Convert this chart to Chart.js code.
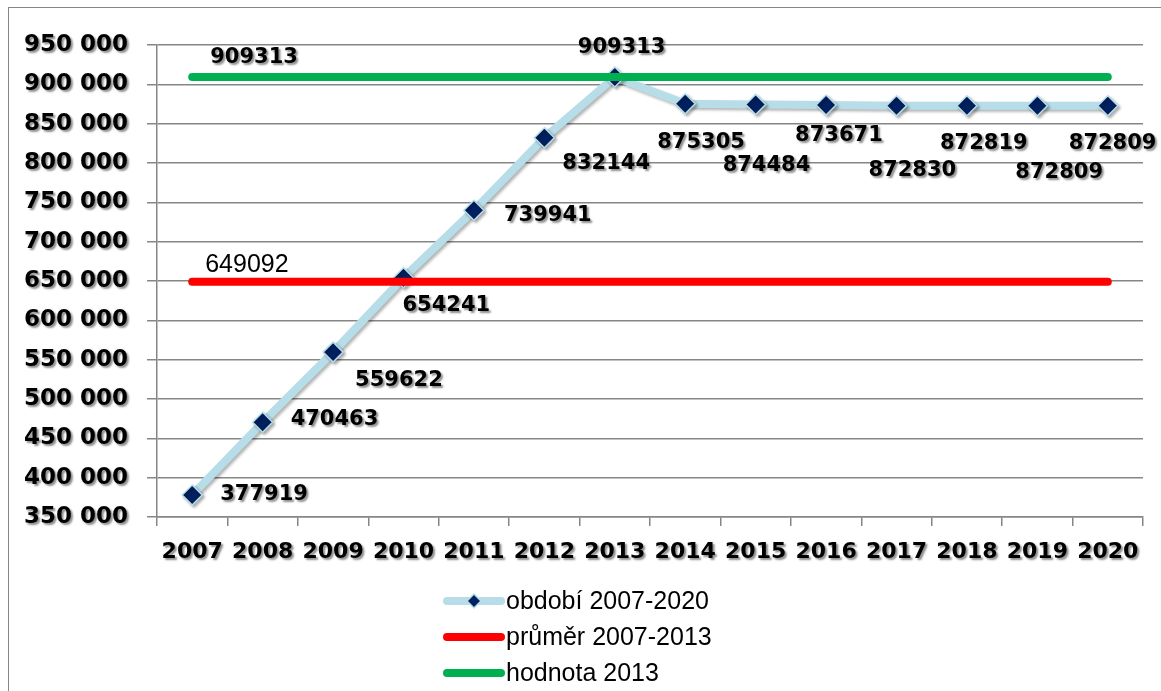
<!DOCTYPE html>
<html>
<head>
<meta charset="utf-8">
<script src="https://cdn.jsdelivr.net/npm/chart.js@4/dist/chart.umd.min.js"></script>
<style>
	html, body { margin: 0; padding: 0; background: #fff; overflow: hidden; }
	#wrap { position: absolute; left: 0; top: 0; width: 1161px; height: 691px; }
	#frame { position: absolute; left: 8px; top: 7px; width: 1170px; height: 700px; border: 1.5px solid #868686; box-sizing: border-box; }
</style>
</head>
<body>
<div id="wrap">
	<div id="frame"></div>
	<canvas id="chart-canvas" width="1161" height="691"></canvas>
</div>
<script>
const years = ["2007", "2008", "2009", "2010", "2011", "2012", "2013", "2014", "2015", "2016", "2017", "2018", "2019", "2020"];
const obdobi = [377919, 470463, 559622, 654241, 739941, 832144, 909313, 875305, 874484, 873671, 872830, 872819, 872809, 872809];
const prumer = 649092;
const hodnota2013 = 909313;
const yMin = 350000;
const yMax = 950000;
const yStep = 50000;

// where each data label sits next to its point (dx, dy in px)
const obdobiLabelOffsets = [
	[28, 0], [28, -3], [22, 28], [-1, 28], [30, 5], [18, 26], [-37, -29],
	[-28, 39], [-33, 61], [-31, 31], [-28, 65], [-27, 38], [-22, 67], [-39, 38],
];

const boldFont = "bold 21px 'DejaVu Sans'";
const textShadow = (c) => {
	c.shadowColor = "rgba(0,0,0,0.45)";
	c.shadowOffsetX = 2;
	c.shadowOffsetY = 2;
	c.shadowBlur = 2;
};

const labelsPlugin = {
	id: "labels",
	beforeDraw(chart) {
		Object.values(chart.scales).forEach((s) => {
			if (s._shadowed) return;
			const orig = s.drawLabels.bind(s);
			s.drawLabels = function (area) {
				this.ctx.save();
				textShadow(this.ctx);
				orig(area);
				this.ctx.restore();
			};
			s._shadowed = true;
		});
	},
	beforeDatasetDraw(chart, args) {
		if (args.index === 0) {
			chart.ctx.save();
			chart.ctx.shadowColor = "rgba(0,0,0,0.3)";
			chart.ctx.shadowOffsetX = 2;
			chart.ctx.shadowOffsetY = 2;
			chart.ctx.shadowBlur = 3;
		}
	},
	afterDatasetDraw(chart, args) {
		if (args.index === 0) chart.ctx.restore();
	},
	afterDraw(chart) {
		const ctx = chart.ctx;
		ctx.save();
		ctx.textBaseline = "middle";
		ctx.textAlign = "left";

		// series labels
		ctx.font = boldFont;
		ctx.fillStyle = "#000";
		textShadow(ctx);
		chart.getDatasetMeta(0).data.forEach((pt, i) => {
			const [dx, dy] = obdobiLabelOffsets[i];
			ctx.fillText(String(obdobi[i]), pt.x + dx, pt.y + dy);
		});
		const g = chart.getDatasetMeta(2).data[0];
		ctx.fillText(String(hodnota2013), g.x + 18, g.y - 19);

		ctx.shadowColor = "transparent";
		const r = chart.getDatasetMeta(1).data[0];
		ctx.font = "25px 'Liberation Sans', Arial";
		ctx.fillText(String(prumer), r.x + 13, r.y - 17);

		// legend, one item per row
		const items = chart.data.datasets;
		const x0 = 447, x1 = 501;
		items.forEach((ds, i) => {
			const y = 601 + i * 36;
			ctx.lineCap = "round";
			ctx.lineWidth = 8;
			ctx.strokeStyle = ds.borderColor;
			ctx.beginPath();
			ctx.moveTo(x0, y);
			ctx.lineTo(x1, y);
			ctx.stroke();
			if (ds.pointRadius > 0) {
				ctx.fillStyle = ds.pointBackgroundColor;
				ctx.strokeStyle = ds.pointBorderColor;
				ctx.lineWidth = 1.5;
				ctx.beginPath();
				ctx.moveTo((x0 + x1) / 2, y - 7);
				ctx.lineTo((x0 + x1) / 2 + 7, y);
				ctx.lineTo((x0 + x1) / 2, y + 7);
				ctx.lineTo((x0 + x1) / 2 - 7, y);
				ctx.closePath();
				ctx.fill();
				ctx.stroke();
			}
			ctx.fillStyle = "#000";
			ctx.font = "25px 'Liberation Sans', Arial";
			ctx.fillText(ds.label, 506, y + 1);
		});
		ctx.restore();
	},
};

const ctxMain = document.getElementById("chart-canvas").getContext("2d");

const mainChart = new Chart(ctxMain, {
	type: "line",
	data: {
		labels: years,
		datasets: [
			{
				label: "období 2007-2020",
				data: obdobi,
				borderColor: "#B7DEE8",
				borderWidth: 8,
				pointStyle: "rectRot",
				pointRadius: 10,
				pointBackgroundColor: "#002060",
				pointBorderColor: "#B7DEE8",
				pointBorderWidth: 1.5,
				order: 3,
			},
			{
				label: "průměr 2007-2013",
				data: years.map(() => prumer),
				borderColor: "#FF0000",
				borderWidth: 8,
				borderCapStyle: "round",
				pointRadius: 0,
				order: 2,
			},
			{
				label: "hodnota 2013",
				data: years.map(() => hodnota2013),
				borderColor: "#00B050",
				borderWidth: 8,
				borderCapStyle: "round",
				pointRadius: 0,
				order: 1,
			},
		],
	},
	options: {
		responsive: false,
		animation: false,
		events: [],
		layout: {
			padding: { left: 0, right: 18, top: 45, bottom: 124 },
		},
		plugins: {
			legend: { display: false },
			tooltip: { enabled: false },
		},
		scales: {
			x: {
				type: "category",
				offset: true,
				afterFit: (s) => { s.height = 50; },
				grid: {
					offset: true,
					drawOnChartArea: false,
					drawTicks: true,
					tickLength: 9,
					color: "#868686",
					lineWidth: 1.5,
				},
				border: { color: "#868686", width: 1.5 },
				ticks: {
					color: "#000",
					padding: 13,
					maxRotation: 0,
					autoSkip: false,
					font: { family: "DejaVu Sans", size: 22, weight: "bold" },
				},
			},
			y: {
				min: yMin,
				max: yMax,
				afterFit: (s) => { s.width = 157; },
				grid: {
					color: "#868686",
					lineWidth: 1.5,
					tickLength: 10,
				},
				border: { color: "#868686", width: 1.5 },
				ticks: {
					stepSize: yStep,
					color: "#000",
					padding: 19,
					font: { family: "DejaVu Sans", size: 23, weight: "bold" },
					callback: (v) => String(v).replace(/\B(?=(\d{3})+(?!\d))/g, " "),
				},
			},
		},
	},
	plugins: [labelsPlugin],
});
</script>
</body>
</html>
